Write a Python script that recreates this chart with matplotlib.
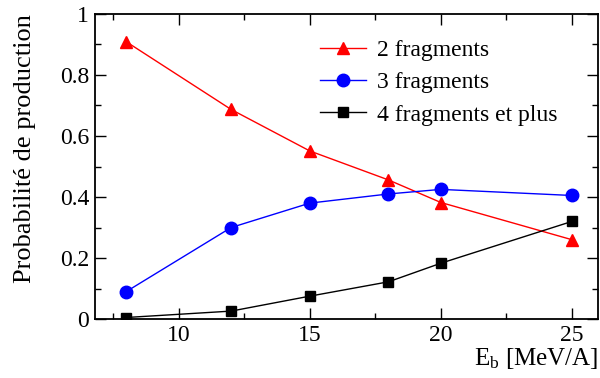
import matplotlib.pyplot as plt
from matplotlib.ticker import MultipleLocator

# energies and production probabilities
energie = [8, 12, 15, 18, 20, 25]
frag2 = [0.909, 0.687, 0.551, 0.456, 0.382, 0.260]
frag3 = [0.090, 0.300, 0.380, 0.410, 0.425, 0.405]
frag4 = [0.005, 0.026, 0.075, 0.122, 0.183, 0.320]

plt.rcParams['font.family'] = ['Liberation Serif', 'DejaVu Serif']
plt.rcParams['mathtext.fontset'] = 'custom'
plt.rcParams['mathtext.rm'] = 'Liberation Serif'
plt.rcParams['mathtext.it'] = 'Liberation Serif'

fig = plt.figure(figsize=(6, 3.78), dpi=100)
ax = fig.add_axes([0.158, 0.156, 0.839, 0.807])

ax.plot(energie, frag2, color='red', marker='^', markersize=8, lw=1, label='2 fragments')
ax.plot(energie, frag3, color='blue', marker='o', markersize=9, lw=1, label='3 fragments')
ax.plot(energie, frag4, color='black', marker='s', markersize=7, lw=1, label='4 fragments et plus')

ax.set_xlim(6.8, 26)
ax.set_ylim(0, 1)
ax.xaxis.set_major_locator(MultipleLocator(5))
ax.xaxis.set_minor_locator(MultipleLocator(2.5))
ax.yaxis.set_major_locator(MultipleLocator(0.2))
ax.yaxis.set_minor_locator(MultipleLocator(0.1))
ax.set_yticks([0, 0.2, 0.4, 0.6, 0.8, 1], ['0', '0.2', '0.4', '0.6', '0.8', '1'])

ax.tick_params(which='both', direction='in', top=True, right=True, labelsize=17, width=1)
ax.tick_params(which='major', length=8, pad=4)
ax.tick_params(which='minor', length=4)
for s in ax.spines.values():
    s.set_linewidth(1.3)

ax.set_ylabel('Probabilité de production', fontsize=19, loc='top', labelpad=17)
ax.set_xlabel('E$_\\mathrm{b}$ [MeV/A]', fontsize=18, loc='right', labelpad=0)

ax.legend(loc='upper left', bbox_to_anchor=(0.405, 0.985), frameon=False, fontsize=17,
          handlelength=1.95, handletextpad=0.45, labelspacing=0.45)

plt.savefig('out.png', dpi=100)
